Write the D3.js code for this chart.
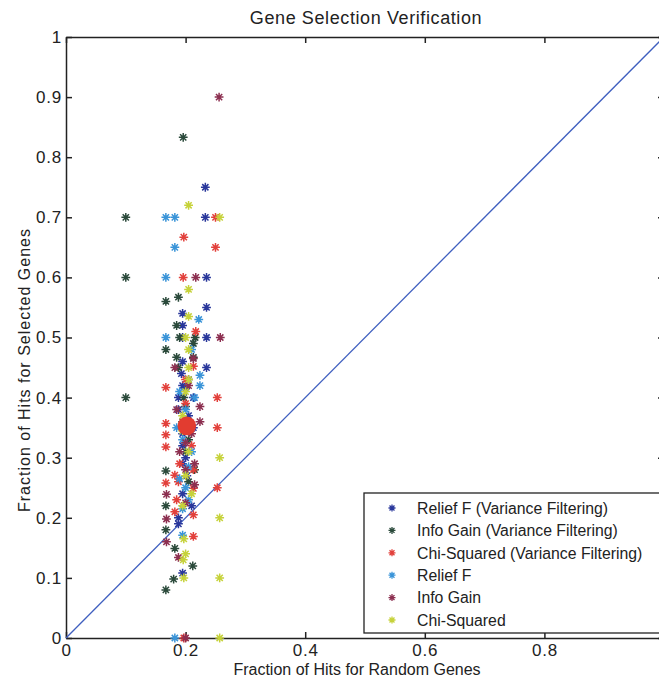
<!DOCTYPE html>
<html>
<head>
<meta charset="utf-8">
<script src="https://cdn.jsdelivr.net/npm/d3@7"></script>
<style>
  body { margin: 0; background: #fff; }
  text { font-family: "Liberation Sans", Arial, sans-serif; fill: #222; }
</style>
</head>
<body>
<div id="chart"></div>
<script>
// series names (legend order)
const seriesNames = [
  "Relief F (Variance Filtering)",
  "Info Gain (Variance Filtering)",
  "Chi-Squared (Variance Filtering)",
  "Relief F",
  "Info Gain",
  "Chi-Squared"
];

// [fraction random, fraction selected]
const reliefVF = [
  [0.233,0.75],[0.233,0.70],[0.235,0.60],[0.235,0.55],[0.195,0.54],[0.195,0.52],[0.195,0.50],
  [0.235,0.50],[0.195,0.46],[0.235,0.45],[0.193,0.44],[0.195,0.42],[0.2,0.415],[0.188,0.40],
  [0.213,0.40],[0.188,0.38],[0.205,0.37],[0.195,0.34],[0.195,0.32],[0.195,0.29],[0.2,0.30],
  [0.202,0.27],[0.195,0.24],[0.21,0.22],[0.188,0.20],[0.188,0.19],[0.195,0.108],[0.213,0.35]
];
const infoGainVF = [
  [0.1,0.70],[0.1,0.60],[0.1,0.40],[0.196,0.833],[0.167,0.56],[0.188,0.567],[0.185,0.52],
  [0.19,0.50],[0.216,0.50],[0.167,0.48],[0.185,0.467],[0.213,0.467],[0.188,0.45],[0.205,0.43],
  [0.197,0.40],[0.2,0.385],[0.195,0.36],[0.205,0.33],[0.2,0.31],[0.167,0.278],[0.167,0.22],
  [0.167,0.18],[0.182,0.149],[0.212,0.12],[0.18,0.098],[0.167,0.08],[0.205,0.26],[0.215,0.28],
  [0.213,0.49]
];
const chiVF = [
  [0.25,0.70],[0.197,0.667],[0.25,0.65],[0.196,0.60],[0.217,0.51],[0.213,0.452],[0.167,0.417],
  [0.253,0.40],[0.2,0.39],[0.167,0.357],[0.167,0.338],[0.167,0.318],[0.253,0.35],[0.21,0.32],
  [0.182,0.271],[0.188,0.26],[0.167,0.258],[0.213,0.249],[0.253,0.25],[0.182,0.21],[0.213,0.205],
  [0.213,0.169],[0.197,0],[0.2,0.43],[0.19,0.29],[0.213,0.28],[0.185,0.23]
];
const reliefF = [
  [0.167,0.70],[0.182,0.70],[0.182,0.65],[0.167,0.60],[0.222,0.53],[0.167,0.50],[0.21,0.48],
  [0.224,0.437],[0.224,0.42],[0.19,0.41],[0.2,0.38],[0.205,0.36],[0.195,0.33],[0.21,0.31],
  [0.205,0.285],[0.19,0.265],[0.2,0.25],[0.205,0.23],[0.195,0.215],[0.195,0.171],[0.182,0],
  [0.215,0.40],[0.185,0.35]
];
const infoGain = [
  [0.256,0.90],[0.217,0.60],[0.258,0.50],[0.213,0.465],[0.182,0.45],[0.224,0.385],[0.224,0.36],
  [0.205,0.42],[0.185,0.38],[0.21,0.34],[0.2,0.325],[0.19,0.31],[0.215,0.29],[0.2,0.28],
  [0.215,0.255],[0.2,0.225],[0.168,0.239],[0.168,0.198],[0.168,0.16],[0.188,0.134],[0.2,0]
];
const chiSq = [
  [0.205,0.72],[0.257,0.70],[0.205,0.58],[0.205,0.535],[0.205,0.48],[0.205,0.43],[0.2,0.41],
  [0.195,0.37],[0.257,0.30],[0.205,0.31],[0.2,0.27],[0.21,0.24],[0.195,0.22],[0.257,0.20],
  [0.197,0.165],[0.2,0.14],[0.196,0.13],[0.197,0.10],[0.257,0.10],[0.257,0],[0.205,0.45],
  [0.2,0.50],[0.195,0.345]
];
const meanPoint = [0.202, 0.353];

const xTicks = [0, 0.2, 0.4, 0.6, 0.8, 1];
const yTicks = [0, 0.1, 0.2, 0.3, 0.4, 0.5, 0.6, 0.7, 0.8, 0.9, 1];

const colors = {
  series: ["#29379b", "#2b4a3b", "#e2403b", "#3a94d8", "#8c2f50", "#c6d23a"],
  diag: "#3f5fbf",
  axis: "#222"
};

const allSeries = [reliefVF, infoGainVF, chiVF, reliefF, infoGain, chiSq];

// dimensions (axes box runs a little past the right edge, like the scan)
const W = 659, H = 685;
const margin = { top: 37, left: 66 };
const width = 598, height = 601;

const svg = d3.select("#chart").append("svg")
  .attr("width", W).attr("height", H);

const g = svg.append("g")
  .attr("transform", `translate(${margin.left},${margin.top})`);

const x = d3.scaleLinear().domain([0, 1]).range([0, width]);
const y = d3.scaleLinear().domain([0, 1]).range([height, 0]);

const fmt = d3.format("~g");

// axes, matlab style: ticks pointing in, box all round
g.append("g")
  .attr("transform", `translate(0,${height})`)
  .call(d3.axisBottom(x).tickValues(xTicks).tickSizeInner(-6).tickSizeOuter(0).tickPadding(6)
    .tickFormat(d => d < 1 ? fmt(d) : ""))
  .call(ax => ax.selectAll("text").style("font-size", "17px").style("letter-spacing", "0.8px").attr("fill", "#222"));

g.append("g")
  .call(d3.axisLeft(y).tickValues(yTicks).tickSizeInner(-6).tickSizeOuter(0).tickPadding(4)
    .tickFormat(fmt))
  .call(ax => ax.selectAll("text").style("font-size", "17px").style("letter-spacing", "0.8px").attr("fill", "#222"));

g.append("g")
  .call(d3.axisTop(x).tickValues(xTicks).tickSizeInner(-6).tickSizeOuter(0).tickFormat(""));

g.append("g")
  .attr("transform", `translate(${width},0)`)
  .call(d3.axisRight(y).tickValues(yTicks).tickSizeInner(-6).tickSizeOuter(0).tickFormat(""));

g.selectAll(".domain, .tick line")
  .attr("stroke", colors.axis)
  .attr("stroke-width", 1.5);

// y = x reference line
g.append("line")
  .attr("x1", x(0)).attr("y1", y(0))
  .attr("x2", x(1)).attr("y2", y(1))
  .attr("stroke", colors.diag)
  .attr("stroke-width", 1.3);

// asterisk marker
const star = r => {
  const d = r * Math.SQRT1_2;
  return `M${-r},0H${r}M0,${-r}V${r}M${-d},${-d}L${d},${d}M${-d},${d}L${d},${-d}`;
};

allSeries.forEach((pts, i) => {
  g.append("g").selectAll("path")
    .data(pts)
    .enter()
    .append("path")
    .attr("transform", d => `translate(${x(d[0])},${y(d[1])})`)
    .attr("d", star(4.4))
    .attr("fill", "none")
    .attr("stroke", colors.series[i])
    .attr("stroke-width", 1.5);
});

// mean marker
g.append("circle")
  .attr("cx", x(meanPoint[0]))
  .attr("cy", y(meanPoint[1]))
  .attr("r", 9.3)
  .attr("fill", "#e23c30");

// legend
const legend = g.append("g")
  .attr("transform", `translate(${364 - margin.left},${493 - margin.top})`);

legend.append("rect")
  .attr("width", 298).attr("height", 140)
  .attr("fill", "#fff")
  .attr("stroke", colors.axis)
  .attr("stroke-width", 1.3);

seriesNames.forEach((name, i) => {
  const row = legend.append("g").attr("transform", `translate(0,${15 + i * 22.4})`);
  row.append("path")
    .attr("transform", "translate(28,0)")
    .attr("d", star(3.5))
    .attr("fill", "none")
    .attr("stroke", colors.series[i])
    .attr("stroke-width", 1.3);
  row.append("text")
    .attr("x", 53)
    .attr("dy", "0.36em")
    .style("font-size", "15.8px")
    .text(name);
});

// title & labels
svg.append("text")
  .attr("x", 366).attr("y", 24)
  .attr("text-anchor", "middle")
  .style("font-size", "18px")
  .style("letter-spacing", "0.6px")
  .text("Gene Selection Verification");

svg.append("text")
  .attr("x", 357).attr("y", 675)
  .attr("text-anchor", "middle")
  .style("font-size", "16px")
  .text("Fraction of Hits for Random Genes");

svg.append("text")
  .attr("transform", "translate(30,370) rotate(-90)")
  .attr("text-anchor", "middle")
  .style("font-size", "16px")
  .style("letter-spacing", "1px")
  .text("Fraction of Hits for Selected Genes");
</script>
</body>
</html>
